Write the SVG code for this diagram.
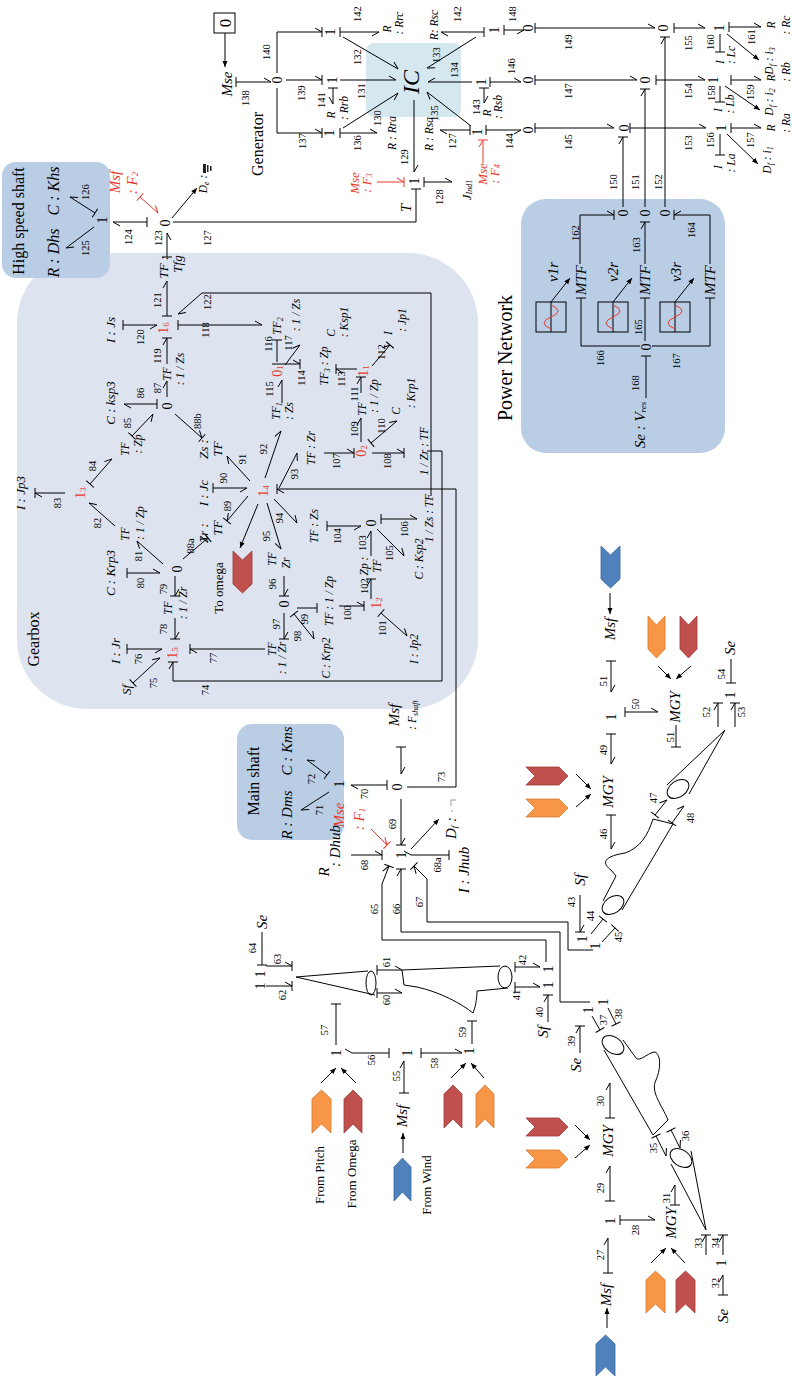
<svg xmlns="http://www.w3.org/2000/svg" width="792" height="1382" viewBox="0 0 792 1382">
<defs>
<style>
text{font-family:"Liberation Serif","Times New Roman",serif;text-anchor:middle;dominant-baseline:central;fill:#000}
.i{font-style:italic;font-size:15px}
.m{font-style:italic;font-size:13px}
.s{font-style:italic;font-size:11.5px}
.n{font-size:10.5px}
.j{font-size:14px}
.t{font-size:15px}
.rd{fill:#e8392b}
.bd path{fill:none;stroke:#000;stroke-width:1}
.rl{fill:none;stroke:#e8392b;stroke-width:1}
.cb{fill:#4f81bd;stroke:#3a68a0;stroke-width:.8}
.co{fill:#f79646;stroke:#d9772f;stroke-width:.8}
.cr{fill:#c0504d;stroke:#9e3b38;stroke-width:.8}
.sh{fill:none;stroke:#000;stroke-width:1}
</style>
<marker id="h1" viewBox="-10 -10 20 20" markerWidth="20" markerHeight="20" markerUnits="userSpaceOnUse" orient="auto"><path d="M0,0L-7,-4" fill="none" stroke="#000"/></marker>
<marker id="h2" viewBox="-10 -10 20 20" markerWidth="20" markerHeight="20" markerUnits="userSpaceOnUse" orient="auto"><path d="M0,0L-7,4" fill="none" stroke="#000"/></marker>
<marker id="b" viewBox="-10 -10 20 20" markerWidth="20" markerHeight="20" markerUnits="userSpaceOnUse" orient="auto"><path d="M0,-5V5" fill="none" stroke="#000"/></marker>
<marker id="h1b" viewBox="-10 -10 20 20" markerWidth="20" markerHeight="20" markerUnits="userSpaceOnUse" orient="auto"><path d="M0,0L-7,-4M0,-5V5" fill="none" stroke="#000"/></marker>
<marker id="h2b" viewBox="-10 -10 20 20" markerWidth="20" markerHeight="20" markerUnits="userSpaceOnUse" orient="auto"><path d="M0,0L-7,4M0,-5V5" fill="none" stroke="#000"/></marker>
<marker id="a" viewBox="-10 -10 20 20" markerWidth="20" markerHeight="20" markerUnits="userSpaceOnUse" orient="auto"><path d="M0,0L-6,-2.5L-6,2.5Z" fill="#000"/></marker>
<marker id="r1b" viewBox="-10 -10 20 20" markerWidth="20" markerHeight="20" markerUnits="userSpaceOnUse" orient="auto"><path d="M0,0L-7,-4M0,-5V5" fill="none" stroke="#e8392b"/></marker>
<marker id="r1" viewBox="-10 -10 20 20" markerWidth="20" markerHeight="20" markerUnits="userSpaceOnUse" orient="auto"><path d="M0,0L-7,-4" fill="none" stroke="#e8392b"/></marker>
<marker id="rb" viewBox="-10 -10 20 20" markerWidth="20" markerHeight="20" markerUnits="userSpaceOnUse" orient="auto"><path d="M0,-5V5" fill="none" stroke="#e8392b"/></marker>
</defs>

<!-- panels -->
<rect id="gearbox-panel" x="17" y="253" width="461" height="456" rx="70" fill="#dde4ef"/>
<rect id="hs-panel" x="2" y="162" width="108" height="116" rx="14" fill="#b9cde5"/>
<rect id="ms-panel" x="237" y="724" width="107" height="116" rx="15" fill="#b9cde5"/>
<rect id="pn-panel" x="521" y="199" width="204" height="254" rx="25" fill="#b9cde5"/>
<rect id="ic-panel" x="366" y="43" width="95" height="74" rx="8" fill="#d5e8f0"/>

<!-- connectors -->
<g id="connectors" class="bd">
<!-- high speed shaft -->
<path d="M94,227L66,248" marker-end="url(#h1)"/>
<path d="M95,213L70,197" marker-start="url(#b)" marker-end="url(#h2)"/>
<path d="M147,222H113" marker-start="url(#b)" marker-end="url(#h1)"/>
<path d="M167,257V233" marker-start="url(#b)" marker-end="url(#h2)"/>
<path d="M172,218L197,188" marker-end="url(#a)"/>
<path d="M173,222H416V189" marker-end="url(#b)"/>
<!-- generator -->
<path d="M225,33V67" marker-end="url(#a)"/>
<path d="M236,82H271" marker-start="url(#b)" marker-end="url(#h1)"/>
<path d="M277,73V32H322" marker-end="url(#h1b)"/>
<path d="M277,88V133H322" marker-end="url(#h1b)"/>
<path d="M286,80H322" marker-end="url(#h1b)"/>
<path d="M340,32H379" marker-start="url(#b)" marker-end="url(#h2)"/>
<path d="M343,37L398,69" marker-end="url(#h1)"/>
<path d="M340,80H396" marker-end="url(#h1)"/>
<path d="M333,88V104" marker-start="url(#b)" marker-end="url(#h2)"/>
<path d="M340,133H377" marker-start="url(#b)" marker-end="url(#h1)"/>
<path d="M343,128L398,93" marker-end="url(#h2)"/>
<path d="M414,100V172" marker-end="url(#h1)"/>
<path d="M424,182H452" marker-start="url(#b)" marker-end="url(#h1)"/>
<path d="M476,37L427,68" marker-end="url(#h1)"/>
<path d="M484,32H441" marker-start="url(#b)" marker-end="url(#h1)"/>
<path d="M504,30H524" marker-start="url(#b)" marker-end="url(#h2)"/>
<path d="M472,82H428" marker-end="url(#h2)"/>
<path d="M484,88V103" marker-start="url(#b)" marker-end="url(#h1)"/>
<path d="M490,82H521" marker-start="url(#b)" marker-end="url(#h1)"/>
<path d="M470,130H440" marker-start="url(#b)" marker-end="url(#h1)"/>
<path d="M471,126L427,92" marker-end="url(#h1)"/>
<path d="M486,130H521" marker-start="url(#b)" marker-end="url(#h2)"/>
<!-- electrical network -->
<path d="M535,28H655" marker-start="url(#b)" marker-end="url(#h1)"/>
<path d="M535,80H637" marker-start="url(#b)" marker-end="url(#h1)"/>
<path d="M535,128H614" marker-start="url(#b)" marker-end="url(#h1)"/>
<path d="M623,207V137" marker-end="url(#h1b)"/>
<path d="M645,207V89" marker-end="url(#h1b)"/>
<path d="M665,207V37" marker-end="url(#h1b)"/>
<path d="M674,28H705" marker-start="url(#b)" marker-end="url(#h1)"/>
<path d="M656,80H705" marker-start="url(#b)" marker-end="url(#h1)"/>
<path d="M630,128H706" marker-start="url(#b)" marker-end="url(#h1)"/>
<path d="M720,34V52" marker-end="url(#b)"/>
<path d="M729,27H761" marker-start="url(#b)" marker-end="url(#h1)"/>
<path d="M727,34L759,60" marker-end="url(#a)"/>
<path d="M720,86V102" marker-end="url(#b)"/>
<path d="M731,80H761" marker-start="url(#b)" marker-end="url(#h1)"/>
<path d="M725,86L760,110" marker-end="url(#a)"/>
<path d="M720,134V155" marker-end="url(#b)"/>
<path d="M731,128H761" marker-start="url(#b)" marker-end="url(#h1)"/>
<path d="M727,134L758,164" marker-end="url(#a)"/>
<!-- power network -->
<path d="M580,264V215H614" marker-end="url(#h1b)"/>
<path d="M645,264V222" marker-end="url(#h1b)"/>
<path d="M710,264V215H674" marker-end="url(#h2b)"/>
<path d="M551,302L570,278" marker-end="url(#a)"/>
<path d="M613,302L632,278" marker-end="url(#a)"/>
<path d="M675,302L694,278" marker-end="url(#a)"/>
<path d="M645,341V298" marker-end="url(#b)"/>
<path d="M640,346H581V298" marker-end="url(#b)"/>
<path d="M652,346H710V298" marker-end="url(#b)"/>
<path d="M646,398V356" marker-end="url(#b)"/>
<!-- gearbox -->
<path d="M65,493H35" marker-end="url(#h1b)"/>
<path d="M90,484L112,459" marker-start="url(#b)" marker-end="url(#h1)"/>
<path d="M115,526L89,503" marker-end="url(#h2)"/>
<path d="M157,404H124" marker-start="url(#b)" marker-end="url(#h1)"/>
<path d="M132,436L153,414" marker-start="url(#b)" marker-end="url(#h2)"/>
<path d="M167,397V381" marker-end="url(#h1)"/>
<path d="M167,364V338" marker-end="url(#h1b)"/>
<path d="M175,414L202,438" marker-end="url(#h1b)"/>
<path d="M213,488H247" marker-start="url(#b)" marker-end="url(#h2)"/>
<path d="M250,481L227,456" marker-end="url(#h1)"/>
<path d="M248,496L227,521" marker-end="url(#h2b)"/>
<path d="M183,559L208,538" marker-end="url(#h1b)"/>
<path d="M163,564L137,541" marker-end="url(#h1)"/>
<path d="M127,573H160" marker-start="url(#b)" marker-end="url(#h1)"/>
<path d="M175,576V596" marker-end="url(#h1b)"/>
<path d="M175,618V639" marker-end="url(#h1b)"/>
<path d="M127,649H162" marker-start="url(#b)" marker-end="url(#h2)"/>
<path d="M133,683L160,658" marker-start="url(#b)" marker-end="url(#h1)"/>
<path d="M265,649H190" marker-end="url(#h1b)"/>
<path d="M427,451H442V681H173V662" marker-end="url(#h1b)"/>
<path d="M258,504L240,548" marker-end="url(#a)"/>
<path d="M167,316V281" marker-start="url(#b)" marker-end="url(#h1)"/>
<path d="M123,325H157" marker-start="url(#b)" marker-end="url(#h2)"/>
<path d="M431,496V293H202L178,314" marker-end="url(#h1)"/>
<path d="M178,325H262" marker-start="url(#b)" marker-end="url(#h1)"/>
<path d="M265,478L281,431" marker-end="url(#h1)"/>
<path d="M279,488L297,453" marker-end="url(#h2)"/>
<path d="M274,499L297,523" marker-end="url(#h1)"/>
<path d="M267,503L281,549" marker-end="url(#h2)"/>
<path d="M284,576V596" marker-end="url(#h1b)"/>
<path d="M284,613V639" marker-end="url(#h1b)"/>
<path d="M294,614L314,639" marker-start="url(#b)" marker-end="url(#h1)"/>
<path d="M297,608H317" marker-end="url(#b)"/>
<path d="M339,606H364" marker-end="url(#h1b)"/>
<path d="M381,613L407,636" marker-start="url(#b)" marker-end="url(#h1)"/>
<path d="M371,599V579" marker-end="url(#h1b)"/>
<path d="M371,556V531" marker-end="url(#h1)"/>
<path d="M327,526H361" marker-start="url(#b)" marker-end="url(#h2)"/>
<path d="M377,529L404,556" marker-end="url(#h1)"/>
<path d="M381,519H417" marker-start="url(#b)" marker-end="url(#h1)"/>
<path d="M324,453H354" marker-end="url(#h1b)"/>
<path d="M372,453H404" marker-end="url(#h1b)"/>
<path d="M361,442V418" marker-end="url(#h1)"/>
<path d="M371,443L397,421" marker-start="url(#b)" marker-end="url(#h1)"/>
<path d="M361,393V377" marker-end="url(#h1b)"/>
<path d="M357,369H336" marker-end="url(#h1b)"/>
<path d="M282,403V380" marker-end="url(#h1)"/>
<path d="M272,364H300" marker-end="url(#h1b)"/>
<path d="M277,362V340" marker-end="url(#b)"/>
<path d="M285,365L300,345" marker-end="url(#h1)"/>
<path d="M372,366L390,345" marker-end="url(#h1b)"/>
<!-- main shaft -->
<path d="M329,792L301,810" marker-end="url(#h1)"/>
<path d="M327,775L307,760" marker-start="url(#b)" marker-end="url(#h2)"/>
<path d="M387,785H351" marker-start="url(#b)" marker-end="url(#h1)"/>
<path d="M401,747V774" marker-start="url(#b)" marker-end="url(#h1)"/>
<path d="M407,787H456V489H277" marker-end="url(#h1b)"/>
<path d="M401,799V845" marker-end="url(#h1b)"/>
<path d="M351,855H382" marker-end="url(#h1b)"/>
<path d="M411,855H449" marker-start="url(#h1)" marker-end="url(#b)"/>
<path d="M411,849L439,819" marker-end="url(#a)"/>
<path d="M546,962V940H382V884L389,866" marker-end="url(#h1b)"/>
<path d="M590,1002H560V932H401V869" marker-end="url(#h1b)"/>
<path d="M593,950H568V922H427V879L414,866" marker-end="url(#h1b)"/>
<!-- blades -->
<path d="M262,932V965" marker-end="url(#b)"/>
<path d="M266,966H292" marker-end="url(#h1b)"/>
<path d="M266,986H292" marker-end="url(#h1b)"/>
<path d="M377,970H402" marker-start="url(#b)" marker-end="url(#h1)"/>
<path d="M377,993H402" marker-start="url(#b)" marker-end="url(#h1)"/>
<path d="M515,967H540" marker-start="url(#b)" marker-end="url(#h1)"/>
<path d="M515,987H540" marker-start="url(#b)" marker-end="url(#h1)"/>
<path d="M548,1022V995" marker-end="url(#h1b)"/>
<path d="M336,1045V1004" marker-end="url(#b)"/>
<path d="M352,1053H389" marker-start="url(#h1)" marker-end="url(#b)"/>
<path d="M404,1093V1061" marker-start="url(#b)" marker-end="url(#h1)"/>
<path d="M403,1153V1133" marker-end="url(#a)"/>
<path d="M421,1053H462" marker-start="url(#b)" marker-end="url(#h1)"/>
<path d="M472,1044V1021" marker-end="url(#b)"/>
<path d="M451,1078L466,1063" marker-end="url(#a)"/>
<path d="M484,1078L471,1063" marker-end="url(#a)"/>
<path d="M321,1083L336,1068" marker-end="url(#a)"/>
<path d="M356,1083L341,1068" marker-end="url(#a)"/>
<path d="M580,895V932" marker-end="url(#h1b)"/>
<path d="M591,934L603,919" marker-end="url(#b)"/>
<path d="M602,942L615,928" marker-end="url(#b)"/>
<path d="M576,774L591,789" marker-end="url(#a)"/>
<path d="M576,807L591,794" marker-end="url(#a)"/>
<path d="M611,815V849" marker-start="url(#b)" marker-end="url(#h1)"/>
<path d="M611,734V764" marker-start="url(#b)" marker-end="url(#h1)"/>
<path d="M611,661V692" marker-start="url(#b)" marker-end="url(#h1)"/>
<path d="M610,593V614" marker-end="url(#a)"/>
<path d="M625,712H658" marker-start="url(#b)" marker-end="url(#h1)"/>
<path d="M676,725V747" marker-end="url(#b)"/>
<path d="M658,666L671,679" marker-end="url(#a)"/>
<path d="M691,666L676,679" marker-end="url(#a)"/>
<path d="M655,815L667,800" marker-start="url(#b)" marker-end="url(#h1)"/>
<path d="M672,823L684,806" marker-start="url(#b)" marker-end="url(#h1)"/>
<path d="M718,727V703" marker-end="url(#h1b)"/>
<path d="M735,727V703" marker-end="url(#h1b)"/>
<path d="M731,659V683" marker-end="url(#b)"/>
<path d="M580,1053V1026" marker-end="url(#h1b)"/>
<path d="M592,1016L600,1030" marker-end="url(#b)"/>
<path d="M608,1008L616,1024" marker-end="url(#b)"/>
<path d="M575,1125L590,1140" marker-end="url(#a)"/>
<path d="M575,1158L590,1145" marker-end="url(#a)"/>
<path d="M610,1118V1083" marker-start="url(#b)" marker-end="url(#h1)"/>
<path d="M610,1201V1166" marker-start="url(#b)" marker-end="url(#h1)"/>
<path d="M608,1273V1238" marker-start="url(#b)" marker-end="url(#h1)"/>
<path d="M607,1328V1308" marker-end="url(#a)"/>
<path d="M620,1220H655" marker-start="url(#b)" marker-end="url(#h1)"/>
<path d="M675,1205V1185" marker-start="url(#b)" marker-end="url(#h1)"/>
<path d="M651,1263L666,1248" marker-end="url(#a)"/>
<path d="M685,1263L671,1248" marker-end="url(#a)"/>
<path d="M656,1136L666,1156" marker-start="url(#b)" marker-end="url(#h1)"/>
<path d="M671,1130L680,1148" marker-start="url(#b)" marker-end="url(#h1)"/>
<path d="M706,1255V1235" marker-end="url(#h1b)"/>
<path d="M723,1255V1235" marker-end="url(#h1b)"/>
<path d="M723,1295V1275" marker-start="url(#b)" marker-end="url(#h1)"/>
</g>
<g id="red-sources">
<path class="rl" d="M140,197L158,213" marker-start="url(#rb)" marker-end="url(#r1)"/>
<path class="rl" d="M377,182H404" marker-end="url(#r1b)"/>
<path class="rl" d="M483,163V140" marker-end="url(#r1b)"/>
<path class="rl" d="M371,829L387,845" marker-end="url(#r1b)"/>
</g>

<!-- shapes: boxes, sources, blades -->
<g id="shapes">
<rect x="214" y="13" width="21" height="20" fill="none" stroke="#000"/>
<g id="sources" fill="none" stroke="#000">
<rect x="536" y="302" width="30" height="30"/><path d="M551,302V332"/>
<rect x="598" y="302" width="30" height="30"/><path d="M613,302V332"/>
<rect x="660" y="302" width="30" height="30"/><path d="M675,302V332"/>
<path stroke="#e8392b" d="M551,329Q537,323 551,317Q565,311 551,305"/>
<path stroke="#e8392b" d="M613,329Q599,323 613,317Q627,311 613,305"/>
<path stroke="#e8392b" d="M675,329Q661,323 675,317Q689,311 675,305"/>
</g>
<g id="de-icon" fill="#222"><rect x="203" y="164" width="3" height="9"/><rect x="207" y="165" width="1.5" height="7"/><rect x="210" y="166" width="1.5" height="5"/></g>
<path d="M451,806V800H456M451,811h2" fill="none" stroke="#999"/>
<g id="blades" class="sh">
<path d="M296,977L368,971M296,977L375,995"/>
<ellipse cx="371" cy="983" rx="5" ry="12"/>
<path d="M402,970L500,966M508,988L477,991C477,1000 475,1008 473,1013C462,1004 440,992 417,987L404,985L402,970"/>
<ellipse cx="505" cy="977" rx="7" ry="11"/>
<ellipse cx="613" cy="905" rx="12" ry="8" transform="rotate(-35 613 905)"/>
<path d="M603,901L616,876L611,870C600,862 606,856 625,853C640,848 648,835 653,819L673,824L622,910"/>
<ellipse cx="678" cy="789" rx="12" ry="8" transform="rotate(-35 678 789)"/>
<path d="M667,785L725,730L689,794"/>
<ellipse cx="613" cy="1045" rx="12" ry="8" transform="rotate(35 613 1045)"/>
<path d="M604,1050L653,1135L668,1120C662,1105 650,1092 656,1080C662,1066 660,1052 654,1052C646,1054 640,1062 636,1058L623,1040"/>
<ellipse cx="681" cy="1158" rx="12" ry="8" transform="rotate(35 681 1158)"/>
<path d="M671,1164L706,1230L691,1151"/>
</g>
<g id="chevrons">
<polygon class="cb" points="394,1167 402.5,1158 411,1167 411,1201 402.5,1192 394,1201"/>
<polygon class="co" points="312,1099 321.5,1090 331,1099 331,1133 321.5,1124 312,1133"/>
<polygon class="cr" points="344,1099 353,1090 362,1099 362,1133 353,1124 344,1133"/>
<polygon class="cr" points="444,1094 453,1085 462,1094 462,1128 453,1119 444,1128"/>
<polygon class="co" points="476,1094 485,1085 494,1094 494,1128 485,1119 476,1128"/>
<polygon class="cb" points="596,1344 605.5,1335 615,1344 615,1376 605.5,1367 596,1376"/>
<polygon class="co" points="646,1280 655.5,1271 665,1280 665,1313 655.5,1304 646,1313"/>
<polygon class="cr" points="676,1280 685.5,1271 695,1280 695,1313 685.5,1304 676,1313"/>
<polygon class="cb" points="601,546 610.5,555 620,546 620,579 610.5,588 601,579"/>
<polygon class="co" points="648,616 656.5,625 665,616 665,649 656.5,658 648,649"/>
<polygon class="cr" points="680,616 688.5,625 697,616 697,649 688.5,658 680,649"/>
<polygon class="cr" points="233,551 242.5,560 252,551 252,584 242.5,593 233,584"/>
<polygon class="cr" points="526,767 559,767 568,776 559,785 526,785 535,776"/>
<polygon class="co" points="526,799 559,799 568,808 559,817 526,817 535,808"/>
<polygon class="cr" points="526,1118 559,1118 568,1127 559,1136 526,1136 535,1127"/>
<polygon class="co" points="526,1150 559,1150 568,1159 559,1168 526,1168 535,1159"/>
</g>
</g>

<!-- labels (rotated frame: x=-screenY, y=screenX) -->
<g id="labels" transform="rotate(-90)">
<g id="hs-shaft">
<text x="-221" y="18" style="font-size:16px">High speed shaft</text>
<text class="i" x="-253" y="53" style="font-size:16px">R : Dhs</text>
<text class="i" x="-191" y="53" style="font-size:16px">C : Khs</text>
<text class="j" x="-220" y="102">1</text>
<text class="n" x="-248" y="85">125</text>
<text class="n" x="-192" y="85">126</text>
<text class="n" x="-237" y="128">124</text>
<text class="j" x="-223" y="165">0</text>
<text class="n" x="-238" y="158">123</text>
<text class="m" x="-267" y="163">TF :</text>
<text class="m" x="-264" y="177">Tfg</text>
<text class="i rd" x="-182" y="115">Msf</text>
<text class="i rd" x="-183" y="132">: F<tspan dy="3" font-size="9">2</tspan></text>
<text class="s" x="-184" y="203">D<tspan dy="3" font-size="8">e</tspan><tspan dy="-3"> :</tspan></text>
<text class="n" x="-238" y="207">127</text>
</g>
<g id="generator">
<text x="-144" y="257">Generator</text>
<text x="-23" y="225" style="font-size:17px">0</text>
<text class="i" x="-84" y="227">Mse</text>
<text class="n" x="-98" y="245">138</text>
<text class="j" x="-80" y="277">0</text>
<text class="n" x="-52" y="266">140</text>
<text class="n" x="-93" y="301">139</text>
<text class="n" x="-141" y="302">137</text>
<text class="j" x="-32" y="330">1</text>
<text class="j" x="-80" y="332">1</text>
<text class="j" x="-133" y="329">1</text>
<text class="n" x="-14" y="357">142</text>
<text class="s" x="-29" y="387">R</text>
<text class="s" x="-23" y="399">: Rrc</text>
<text class="n" x="-57" y="357">132</text>
<text class="n" x="-91" y="361">131</text>
<text class="n" x="-100" y="321">141</text>
<text class="s" x="-115" y="331">R</text>
<text class="s" x="-108" y="344">: Rrb</text>
<text class="n" x="-143" y="357">136</text>
<text class="s" x="-133" y="392">R : Rra</text>
<text class="n" x="-118" y="377">130</text>
<text x="-82" y="411" style="font-size:24px;font-style:italic">IC</text>
<text class="n" x="-157" y="404">129</text>
<text class="j" x="-181" y="414">1</text>
<text class="m rd" x="-183" y="354">Mse</text>
<text class="m rd" x="-183" y="366">: F<tspan dy="3" font-size="8">3</tspan></text>
<text class="n" x="-197" y="439">128</text>
<text class="m" x="-190" y="466">J<tspan dy="3" font-size="8">Ind1</tspan></text>
<text class="i" x="-208" y="406">T</text>
<text class="s" x="-25" y="434">R: Rsc</text>
<text class="n" x="-55" y="436">133</text>
<text class="n" x="-14" y="457">142</text>
<text class="j" x="-30" y="494">1</text>
<text class="n" x="-14" y="512">148</text>
<text class="n" x="-70" y="454">134</text>
<text class="j" x="-82" y="481">1</text>
<text class="n" x="-107" y="476">143</text>
<text class="s" x="-113" y="487">R</text>
<text class="s" x="-107" y="498">: Rsb</text>
<text class="n" x="-66" y="511">146</text>
<text class="n" x="-141" y="452">127</text>
<text class="s" x="-134" y="429">R : Rsa</text>
<text class="n" x="-113" y="434">135</text>
<text class="j" x="-132" y="477">1</text>
<text class="n" x="-141" y="509">144</text>
<text class="m rd" x="-174" y="482">Mse</text>
<text class="m rd" x="-174" y="494">: F<tspan dy="3" font-size="8">4</tspan></text>
<text class="j" x="-28" y="528">0</text>
<text class="j" x="-80" y="528">0</text>
<text class="j" x="-130" y="528">0</text>
</g>
<g id="electrical">
<text class="n" x="-42" y="568">149</text>
<text class="n" x="-91" y="568">147</text>
<text class="n" x="-142" y="568">145</text>
<text class="j" x="-28" y="663">0</text>
<text class="j" x="-80" y="645">0</text>
<text class="j" x="-128" y="624">0</text>
<text class="n" x="-182" y="613">150</text>
<text class="n" x="-182" y="635">151</text>
<text class="n" x="-182" y="658">152</text>
<text class="n" x="-43" y="688">155</text>
<text class="n" x="-91" y="688">154</text>
<text class="n" x="-143" y="688">153</text>
<text class="j" x="-28" y="719">1</text>
<text class="j" x="-80" y="713">1</text>
<text class="j" x="-128" y="721">1</text>
<text class="n" x="-42" y="710">160</text>
<text class="s" x="-62" y="720">I</text>
<text class="s" x="-55" y="731">: Lc</text>
<text class="n" x="-37" y="751">161</text>
<text class="s" x="-25" y="771">R</text>
<text class="s" x="-25" y="786">: Rc</text>
<text class="s" x="-61" y="769">D<tspan dy="3" font-size="8">f</tspan><tspan dy="-3"> : i</tspan><tspan dy="3" font-size="8">3</tspan></text>
<text class="n" x="-93" y="711">158</text>
<text class="s" x="-110" y="718">I</text>
<text class="s" x="-104" y="730">: Lb</text>
<text class="n" x="-92" y="750">159</text>
<text class="s" x="-78" y="771">R</text>
<text class="s" x="-72" y="786">: Rb</text>
<text class="s" x="-102" y="769">D<tspan dy="3" font-size="8">f</tspan><tspan dy="-3"> : i</tspan><tspan dy="3" font-size="8">2</tspan></text>
<text class="n" x="-140" y="710">156</text>
<text class="s" x="-167" y="718">I</text>
<text class="s" x="-163" y="731">: La</text>
<text class="n" x="-140" y="750">157</text>
<text class="s" x="-128" y="771">R</text>
<text class="s" x="-123" y="786">: Ra</text>
<text class="s" x="-160" y="767">D<tspan dy="3" font-size="8">f</tspan><tspan dy="-3"> : i</tspan><tspan dy="3" font-size="8">1</tspan></text>
</g>
<g id="power-network">
<text x="-358" y="505" style="font-size:20px">Power Network</text>
<text class="j" x="-213" y="623">0</text>
<text class="j" x="-213" y="645">0</text>
<text class="j" x="-213" y="665">0</text>
<text class="n" x="-233" y="575">162</text>
<text class="n" x="-245" y="636">163</text>
<text class="n" x="-230" y="691">164</text>
<text class="i" x="-280" y="581">MTF</text>
<text class="i" x="-280" y="645">MTF</text>
<text class="i" x="-280" y="710">MTF</text>
<text class="i" x="-272" y="553">v1r</text>
<text class="i" x="-272" y="613">v2r</text>
<text class="i" x="-272" y="676">v3r</text>
<text class="n" x="-327" y="638">165</text>
<text class="n" x="-358" y="600">166</text>
<text class="n" x="-361" y="676">167</text>
<text class="j" x="-347" y="646">0</text>
<text class="n" x="-383" y="635">168</text>
<text class="i" x="-425" y="640">Se : V<tspan dy="3" font-size="9">res</tspan></text>
</g>
<g id="gearbox">
<text x="-639" y="33">Gearbox</text>
<text class="m" x="-493" y="20">I : Jp3</text>
<text class="n" x="-503" y="57">83</text>
<text class="j rd" x="-493" y="80">1<tspan dy="3" font-size="9">3</tspan></text>
<text class="n" x="-466" y="92">84</text>
<text class="s" x="-449" y="125">TF</text>
<text class="s" x="-444" y="138">: Zp</text>
<text class="n" x="-523" y="97">82</text>
<text class="s" x="-534" y="125">TF</text>
<text class="s" x="-523" y="140">: 1 / Zp</text>
<text class="m" x="-403" y="110">C : ksp3</text>
<text class="n" x="-393" y="140">86</text>
<text class="n" x="-423" y="127">85</text>
<text class="j" x="-406" y="167">0</text>
<text class="n" x="-388" y="157">87</text>
<text class="s" x="-374" y="167">TF</text>
<text class="s" x="-369" y="180">: 1 / Zs</text>
<text class="n" x="-356" y="157">119</text>
<text class="n" x="-421" y="197">88b</text>
<text class="m" x="-449" y="203">Zs :</text>
<text class="m" x="-449" y="217">TF</text>
<text class="m" x="-493" y="203">I : Jc</text>
<text class="n" x="-478" y="223">90</text>
<text class="n" x="-459" y="242">91</text>
<text class="n" x="-506" y="227">89</text>
<text class="m" x="-533" y="203">Zr :</text>
<text class="m" x="-528" y="217">TF</text>
<text class="n" x="-546" y="190">88a</text>
<text class="j" x="-569" y="177">0</text>
<text class="n" x="-556" y="138">81</text>
<text class="m" x="-573" y="110">C : Krp3</text>
<text class="n" x="-583" y="140">80</text>
<text class="n" x="-589" y="163">79</text>
<text class="s" x="-608" y="168">TF</text>
<text class="s" x="-603" y="183">: 1 / Zr</text>
<text class="n" x="-629" y="163">78</text>
<text class="j rd" x="-653" y="172">1<tspan dy="3" font-size="9">5</tspan></text>
<text class="m" x="-651" y="115">I : Jr</text>
<text class="n" x="-659" y="138">76</text>
<text class="n" x="-683" y="153">75</text>
<text class="m" x="-690" y="126">Sf</text>
<text class="n" x="-658" y="213">77</text>
<text class="n" x="-690" y="205">74</text>
<text x="-588" y="218" style="font-size:13px">To omega</text>
<text class="j rd" x="-491" y="263">1<tspan dy="3" font-size="9">4</tspan></text>
<text class="m" x="-330" y="110">I : Js</text>
<text class="n" x="-337" y="140">120</text>
<text class="j rd" x="-328" y="163">1<tspan dy="3" font-size="9">6</tspan></text>
<text class="n" x="-300" y="157">121</text>
<text class="n" x="-302" y="207">122</text>
<text class="n" x="-330" y="205">118</text>
<text class="n" x="-449" y="263">92</text>
<text class="n" x="-474" y="294">93</text>
<text class="n" x="-518" y="279">94</text>
<text class="n" x="-536" y="266">95</text>
<text class="s" x="-559" y="272">TF</text>
<text class="s" x="-563" y="286">Zr</text>
<text class="n" x="-584" y="272">96</text>
<text class="j" x="-604" y="284">0</text>
<text class="n" x="-624" y="276">97</text>
<text class="s" x="-649" y="272">TF</text>
<text class="s" x="-658" y="282">: 1 / Zr</text>
<text class="n" x="-636" y="297">98</text>
<text class="n" x="-619" y="304">99</text>
<text class="s" x="-601" y="329">TF : 1 / Zp</text>
<text class="s" x="-658" y="326">C : Krp2</text>
<text class="n" x="-613" y="347">100</text>
<text class="j rd" x="-603" y="376">1<tspan dy="3" font-size="9">2</tspan></text>
<text class="n" x="-628" y="382">101</text>
<text class="s" x="-649" y="414">I : Jp2</text>
<text class="n" x="-586" y="364">102</text>
<text class="s" x="-566" y="364">Zp :</text>
<text class="s" x="-566" y="377">TF</text>
<text class="n" x="-543" y="362">103</text>
<text class="j" x="-523" y="371">0</text>
<text class="s" x="-526" y="314">TF : Zs</text>
<text class="n" x="-536" y="337">104</text>
<text class="n" x="-553" y="389">105</text>
<text class="s" x="-559" y="419">C : Ksp2</text>
<text class="n" x="-529" y="404">106</text>
<text class="s" x="-518" y="429">1 / Zs : TF</text>
<text class="s" x="-448" y="311">TF : Zr</text>
<text class="n" x="-461" y="336">107</text>
<text class="j rd" x="-451" y="361">0<tspan dy="3" font-size="9">2</tspan></text>
<text class="n" x="-461" y="387">108</text>
<text class="s" x="-451" y="424">1 / Zr : TF</text>
<text class="n" x="-429" y="354">109</text>
<text class="s" x="-409" y="362">TF</text>
<text class="s" x="-396" y="374">: 1 / Zp</text>
<text class="n" x="-426" y="381">110</text>
<text class="s" x="-411" y="396">C</text>
<text class="s" x="-393" y="411">: Krp1</text>
<text class="n" x="-394" y="354">111</text>
<text class="j rd" x="-371" y="363">1<tspan dy="3" font-size="9">1</tspan></text>
<text class="n" x="-379" y="341">113</text>
<text class="s" x="-366" y="324">TF<tspan dy="3" font-size="8">3</tspan><tspan dy="-3"> : Zp</tspan></text>
<text class="n" x="-378" y="301">114</text>
<text class="j rd" x="-371" y="277">0<tspan dy="3" font-size="9">1</tspan></text>
<text class="n" x="-389" y="269">115</text>
<text class="s" x="-411" y="276">TF<tspan dy="3" font-size="8">1</tspan></text>
<text class="s" x="-411" y="289">: Zs</text>
<text class="n" x="-344" y="268">116</text>
<text class="s" x="-326" y="277">TF<tspan dy="3" font-size="8">2</tspan></text>
<text class="n" x="-343" y="288">117</text>
<text class="s" x="-315" y="296">: 1 / Zs</text>
<text class="s" x="-333" y="331">C</text>
<text class="s" x="-322" y="344">: Ksp1</text>
<text class="n" x="-352" y="381">112</text>
<text class="s" x="-333" y="388">I</text>
<text class="s" x="-320" y="402">: Jp1</text>
</g>
<g id="main-shaft">
<text x="-781" y="253" style="font-size:16px">Main shaft</text>
<text class="i" x="-815" y="287">R : Dms</text>
<text class="i" x="-751" y="287">C : Kms</text>
<text class="j" x="-784" y="339">1</text>
<text class="n" x="-810" y="319">71</text>
<text class="n" x="-779" y="311">72</text>
<text class="n" x="-794" y="364">70</text>
<text class="j" x="-787" y="397">0</text>
<text class="i" x="-715" y="394">Msf</text>
<text class="s" x="-715" y="412">: F<tspan dy="3" font-size="8">shaft</tspan></text>
<text class="n" x="-777" y="441">73</text>
<text class="n" x="-824" y="392">69</text>
<text class="j" x="-855" y="401">1</text>
<text class="i rd" x="-815" y="339">Mse</text>
<text class="i rd" x="-819" y="359">: F<tspan dy="3" font-size="9">1</tspan></text>
<text class="i" x="-872" y="324">R</text>
<text class="i" x="-846" y="335">: Dhub</text>
<text class="n" x="-865" y="364">68</text>
<text class="n" x="-865" y="437">68a</text>
<text class="i" x="-870" y="464">I : Jhub</text>
<text class="i" x="-828" y="451">D<tspan dy="3" font-size="9">f</tspan><tspan dy="-3"> :</tspan></text>
<text class="n" x="-909" y="374">65</text>
<text class="n" x="-909" y="396">66</text>
<text class="n" x="-902" y="419">67</text>
</g>
<g id="blade-labels">
<text class="i" x="-922" y="262">Se</text>
<text class="n" x="-948" y="252">64</text>
<text class="j" x="-974" y="260">1</text>
<text class="j" x="-986" y="260">1</text>
<text class="n" x="-959" y="277">63</text>
<text class="n" x="-995" y="282">62</text>
<text class="n" x="-962" y="386">61</text>
<text class="n" x="-1000" y="386">60</text>
<text class="n" x="-960" y="522">42</text>
<text class="n" x="-995" y="516">41</text>
<text class="j" x="-969" y="548">1</text>
<text class="j" x="-985" y="548">1</text>
<text class="n" x="-1012" y="539">40</text>
<text class="i" x="-1032" y="543">Sf</text>
<text class="n" x="-1030" y="324">57</text>
<text class="j" x="-1053" y="336">1</text>
<text class="n" x="-1060" y="371">56</text>
<text class="j" x="-1053" y="407">1</text>
<text class="n" x="-1076" y="396">55</text>
<text class="i" x="-1116" y="402">Msf</text>
<text x="-1185" y="426" style="font-size:13px">From Wind</text>
<text class="n" x="-1063" y="434">58</text>
<text class="j" x="-1051" y="469">1</text>
<text class="n" x="-1032" y="462">59</text>
<text x="-1175" y="319" style="font-size:13px">From Pitch</text>
<text x="-1174" y="351" style="font-size:13px">From Omega</text>
<text class="n" x="-1041" y="571">39</text>
<text class="i" x="-1065" y="576">Se</text>
<text class="n" x="-1020" y="603">37</text>
<text class="n" x="-1014" y="618">38</text>
<text class="j" x="-1010" y="588">1</text>
<text class="j" x="-1002" y="603">1</text>
<text class="i" x="-1141" y="608">MGY</text>
<text class="n" x="-1101" y="600">30</text>
<text class="n" x="-1188" y="600">29</text>
<text class="j" x="-1221" y="610">1</text>
<text class="n" x="-1255" y="600">27</text>
<text class="i" x="-1295" y="606">Msf</text>
<text class="n" x="-1230" y="635">28</text>
<text class="i" x="-1223" y="671">MGY</text>
<text class="n" x="-1198" y="666">31</text>
<text class="n" x="-1148" y="653">35</text>
<text class="n" x="-1136" y="685">36</text>
<text class="n" x="-1243" y="698">33</text>
<text class="n" x="-1243" y="715">34</text>
<text class="j" x="-1263" y="721">1</text>
<text class="n" x="-1283" y="715">32</text>
<text class="i" x="-1316" y="723">Se</text>
<text class="n" x="-902" y="571">43</text>
<text class="i" x="-880" y="580">Sf</text>
<text class="n" x="-916" y="590">44</text>
<text class="n" x="-937" y="618">45</text>
<text class="j" x="-939" y="582">1</text>
<text class="j" x="-946" y="595">1</text>
<text class="i" x="-792" y="608">MGY</text>
<text class="n" x="-834" y="603">46</text>
<text class="n" x="-750" y="603">49</text>
<text class="j" x="-717" y="611">1</text>
<text class="n" x="-681" y="603">51</text>
<text class="i" x="-629" y="610">Msf</text>
<text class="n" x="-704" y="635">50</text>
<text class="i" x="-707" y="675">MGY</text>
<text class="n" x="-737" y="670">51</text>
<text class="n" x="-798" y="653">47</text>
<text class="n" x="-818" y="690">48</text>
<text class="n" x="-712" y="706">52</text>
<text class="n" x="-712" y="741">53</text>
<text class="j" x="-695" y="730">1</text>
<text class="n" x="-674" y="721">54</text>
<text class="i" x="-648" y="730">Se</text>
</g>
</g>
</svg>
